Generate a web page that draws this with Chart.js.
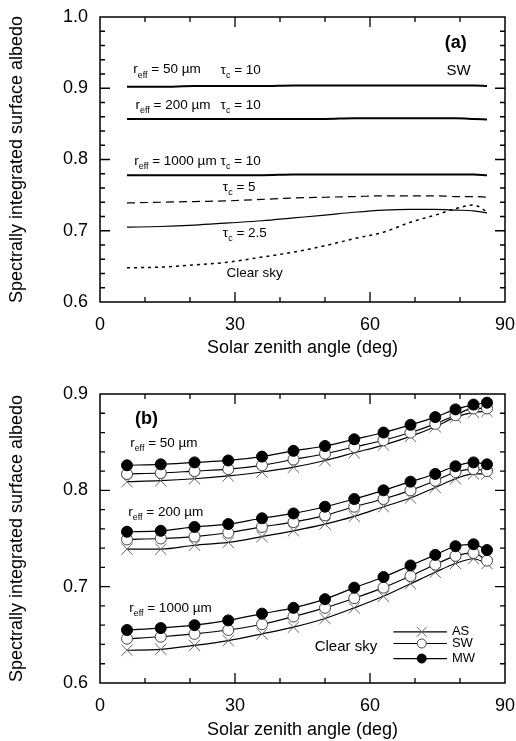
<!DOCTYPE html>
<html>
<head>
<meta charset="utf-8">
<script src="https://cdn.jsdelivr.net/npm/chart.js@4.4.1/dist/chart.umd.min.js"></script>
<style>
  html, body { margin: 0; padding: 0; background: #fff; }
  canvas { position: absolute; left: 0; }
  #chartA { top: 0; }
  #chartB { top: 370px; }
</style>
</head>
<body>
<canvas id="chartA" width="516" height="370"></canvas>
<canvas id="chartB" width="516" height="371"></canvas>
<script>
// solar zenith angles (deg)
const sza = [6, 13.5, 21, 28.5, 36, 43, 50, 56.5, 63, 69, 74.5, 79, 83, 86];

// panel (a): SW scheme, cloudy cases
const r50Tau10 = [0.902, 0.902, 0.903, 0.903, 0.903, 0.904, 0.904, 0.904, 0.904, 0.904, 0.904, 0.904, 0.904, 0.903];
const r200Tau10 = [0.857, 0.857, 0.857, 0.857, 0.857, 0.857, 0.857, 0.858, 0.858, 0.858, 0.858, 0.858, 0.857, 0.856];
const r1000Tau10 = [0.778, 0.778, 0.778, 0.778, 0.778, 0.779, 0.779, 0.779, 0.779, 0.779, 0.779, 0.779, 0.779, 0.778];
const r1000Tau5 = [0.739, 0.740, 0.741, 0.742, 0.744, 0.746, 0.747, 0.748, 0.749, 0.749, 0.749, 0.748, 0.748, 0.747];
const r1000Tau25 = [0.705, 0.706, 0.708, 0.711, 0.714, 0.718, 0.722, 0.726, 0.729, 0.730, 0.730, 0.729, 0.728, 0.725];
const r1000Clear = [0.648, 0.649, 0.652, 0.656, 0.663, 0.670, 0.679, 0.689, 0.698, 0.712, 0.722, 0.731, 0.736, 0.727];

// panel (b): clear sky, three schemes
const as50 = [0.809, 0.810, 0.812, 0.815, 0.819, 0.824, 0.831, 0.839, 0.847, 0.856, 0.866, 0.876, 0.881, 0.882];
const sw50 = [0.817, 0.818, 0.820, 0.822, 0.826, 0.832, 0.838, 0.845, 0.852, 0.860, 0.869, 0.878, 0.885, 0.885];
const mw50 = [0.826, 0.827, 0.829, 0.831, 0.835, 0.841, 0.846, 0.853, 0.860, 0.868, 0.876, 0.884, 0.889, 0.891];
const as200 = [0.739, 0.739, 0.743, 0.746, 0.752, 0.758, 0.765, 0.773, 0.783, 0.792, 0.803, 0.812, 0.817, 0.817];
const sw200 = [0.749, 0.750, 0.752, 0.756, 0.762, 0.767, 0.774, 0.783, 0.791, 0.800, 0.810, 0.819, 0.822, 0.820];
const mw200 = [0.757, 0.758, 0.762, 0.765, 0.771, 0.776, 0.783, 0.791, 0.800, 0.809, 0.817, 0.825, 0.829, 0.827];
const as1000 = [0.634, 0.635, 0.639, 0.644, 0.651, 0.658, 0.667, 0.678, 0.690, 0.703, 0.715, 0.724, 0.729, 0.724];
const sw1000 = [0.646, 0.648, 0.651, 0.655, 0.661, 0.669, 0.678, 0.688, 0.699, 0.711, 0.723, 0.732, 0.735, 0.727];
const mw1000 = [0.655, 0.657, 0.660, 0.665, 0.672, 0.678, 0.687, 0.699, 0.710, 0.722, 0.733, 0.742, 0.744, 0.738];

const xTickLabels = [0, 30, 60, 90];
const FONT = '"Liberation Sans", Arial, sans-serif';

const pts = vals => vals.map((v, i) => ({ x: sza[i], y: v }));
const isTenth = v => Math.abs(v * 10 - Math.round(v * 10)) < 1e-6;

function drawParts(ctx, x, y, parts, size, bold) {
    // draws text pieces in a row, `sub` pieces smaller and lower
    let cx = x;
    parts.forEach(p => {
        const fs = p.sub ? size * 0.66 : size;
        ctx.font = (bold ? 'bold ' : '') + fs + 'px ' + FONT;
        ctx.fillText(p.t, cx, p.sub ? y + size * 0.4 : y);
        cx += ctx.measureText(p.t).width;
    });
}

// frame, inward ticks, text notes and the small legend
const decorPlugin = {
    id: 'decor',
    afterDatasetsDraw(chart, args, opts) {
        const ctx = chart.ctx;
        const a = chart.chartArea;
        const xs = chart.scales.x, ys = chart.scales.y;
        ctx.save();
        ctx.strokeStyle = '#000';
        ctx.lineWidth = 1.5;
        ctx.strokeRect(a.left, a.top, a.right - a.left, a.bottom - a.top);
        ctx.lineWidth = 1.3;
        ctx.beginPath();
        xs.ticks.forEach(t => {
            const px = xs.getPixelForValue(t.value);
            if (px <= a.left + 1 || px >= a.right - 1) return;
            const len = xTickLabels.includes(t.value) ? 10 : 5;
            ctx.moveTo(px, a.bottom); ctx.lineTo(px, a.bottom - len);
            ctx.moveTo(px, a.top); ctx.lineTo(px, a.top + len);
        });
        ys.ticks.forEach(t => {
            const py = ys.getPixelForValue(t.value);
            if (py <= a.top + 1 || py >= a.bottom - 1) return;
            const len = isTenth(t.value) ? 10 : 5;
            ctx.moveTo(a.left, py); ctx.lineTo(a.left + len, py);
            ctx.moveTo(a.right, py); ctx.lineTo(a.right - len, py);
        });
        ctx.stroke();

        ctx.fillStyle = '#000';
        ctx.textBaseline = 'middle';
        ctx.textAlign = 'left';
        (opts.notes || []).forEach(n => {
            drawParts(ctx, xs.getPixelForValue(n.x), ys.getPixelForValue(n.y), n.parts, n.size || 13.5, n.bold);
        });

        if (opts.legend) {
            const L = opts.legend;
            L.rows.forEach(r => {
                const py = ys.getPixelForValue(r.y);
                const x0 = xs.getPixelForValue(L.x0), x1 = xs.getPixelForValue(L.x1);
                ctx.strokeStyle = '#000';
                ctx.lineWidth = 1.2;
                ctx.beginPath(); ctx.moveTo(x0, py); ctx.lineTo(x1, py); ctx.stroke();
                ctx.strokeStyle = r.border;
                ctx.fillStyle = r.fill;
                ctx.lineWidth = 1;
                Chart.helpers.drawPoint(ctx, { pointStyle: r.style, radius: r.radius, borderWidth: 1, rotation: 0 },
                    xs.getPixelForValue(L.xm), py);
                ctx.fillStyle = '#000';
                ctx.font = '13px ' + FONT;
                ctx.fillText(r.label, xs.getPixelForValue(L.xt), py);
            });
        }
        ctx.restore();
    }
};

function axes(yMin, yMax, xAxisH, titlePad) {
    return {
        x: {
            type: 'linear', min: 0, max: 90,
            grid: { display: false, drawTicks: false },
            border: { display: false },
            ticks: {
                stepSize: 10, autoSkip: false, maxRotation: 0, padding: 12, color: '#000',
                font: { family: FONT, size: 18 },
                callback: v => xTickLabels.includes(v) ? String(v) : ''
            },
            title: { display: true, text: 'Solar zenith angle (deg)', color: '#000',
                font: { family: FONT, size: 18 }, padding: { top: 0, bottom: titlePad } },
            afterFit(s) { s.height = xAxisH; s.paddingLeft = 0; s.paddingRight = 0; }
        },
        y: {
            type: 'linear', min: yMin, max: yMax,
            grid: { display: false, drawTicks: false },
            border: { display: false },
            ticks: {
                stepSize: 0.02, autoSkip: false, padding: 12, color: '#000',
                font: { family: FONT, size: 18 },
                callback: v => isTenth(v) ? v.toFixed(1) : ''
            },
            title: { display: true, text: 'Spectrally integrated surface albedo', color: '#000',
                font: { family: FONT, size: 18 }, padding: { top: 6, bottom: 0 } },
            afterFit(s) { s.width = 100; s.paddingTop = 0; s.paddingBottom = 0; }
        }
    };
}

const reff = v => [{ t: 'r' }, { t: 'eff', sub: true }, { t: ' = ' + v + ' µm' }];
const tau = v => [{ t: 'τ' }, { t: 'c', sub: true }, { t: ' = ' + v }];

const lineA = (data, width, dash) => ({
    data: pts(data), borderColor: '#000', borderWidth: width, borderDash: dash || [],
    pointRadius: 0, tension: 0.3, cubicInterpolationMode: 'monotone', fill: false
});

new Chart(document.getElementById('chartA'), {
    type: 'line',
    data: {
        datasets: [
            lineA(r50Tau10, 2),
            lineA(r200Tau10, 2),
            lineA(r1000Tau10, 2),
            lineA(r1000Tau5, 1.2, [8, 5]),
            lineA(r1000Tau25, 1.2),
            lineA(r1000Clear, 1.5, [3, 4])
        ]
    },
    options: {
        responsive: false, animation: false, devicePixelRatio: 1,
        layout: { padding: { top: 17, right: 11, bottom: 0, left: 0 } },
        scales: axes(0.6, 1.0, 68, 11),
        plugins: {
            legend: { display: false }, tooltip: { enabled: false },
            decor: {
                notes: [
                    { x: 7.4, y: 0.926, parts: reff(50) },
                    { x: 26.8, y: 0.925, parts: tau(10) },
                    { x: 7.9, y: 0.876, parts: reff(200) },
                    { x: 26.8, y: 0.876, parts: tau(10) },
                    { x: 7.6, y: 0.798, parts: reff(1000) },
                    { x: 26.8, y: 0.798, parts: tau(10) },
                    { x: 27.3, y: 0.7615, parts: tau(5) },
                    { x: 27.3, y: 0.696, parts: tau(2.5) },
                    { x: 28.1, y: 0.640, parts: [{ t: 'Clear sky' }] },
                    { x: 77.0, y: 0.925, parts: [{ t: 'SW' }], size: 15 },
                    { x: 76.6, y: 0.963, parts: [{ t: '(a)' }], size: 18, bold: true }
                ]
            }
        }
    },
    plugins: [decorPlugin]
});

const asSet = data => ({
    data: pts(data), borderColor: '#000', borderWidth: 1.2, order: 3,
    pointStyle: 'crossRot', pointRadius: 8, pointBorderColor: '#666', pointBorderWidth: 1,
    tension: 0.3, cubicInterpolationMode: 'monotone', fill: false
});
const swSet = data => ({
    data: pts(data), borderColor: '#000', borderWidth: 1.2, order: 2,
    pointStyle: 'circle', pointRadius: 5.5, pointBackgroundColor: '#fff', pointBorderColor: '#444', pointBorderWidth: 1,
    tension: 0.3, cubicInterpolationMode: 'monotone', fill: false
});
const mwSet = data => ({
    data: pts(data), borderColor: '#000', borderWidth: 1.2, order: 1,
    pointStyle: 'circle', pointRadius: 5.5, pointBackgroundColor: '#000', pointBorderColor: '#000', pointBorderWidth: 1,
    tension: 0.3, cubicInterpolationMode: 'monotone', fill: false
});

new Chart(document.getElementById('chartB'), {
    type: 'line',
    data: {
        datasets: [
            asSet(as50), swSet(sw50), mwSet(mw50),
            asSet(as200), swSet(sw200), mwSet(mw200),
            asSet(as1000), swSet(sw1000), mwSet(mw1000)
        ]
    },
    options: {
        responsive: false, animation: false, devicePixelRatio: 1,
        layout: { padding: { top: 24, right: 11, bottom: 0, left: 0 } },
        scales: axes(0.6, 0.9, 58, 0),
        plugins: {
            legend: { display: false }, tooltip: { enabled: false },
            decor: {
                notes: [
                    { x: 7.8, y: 0.874, parts: [{ t: '(b)' }], size: 18, bold: true },
                    { x: 6.7, y: 0.849, parts: reff(50) },
                    { x: 6.3, y: 0.777, parts: reff(200) },
                    { x: 6.5, y: 0.6775, parts: reff(1000) },
                    { x: 47.7, y: 0.6375, parts: [{ t: 'Clear sky' }], size: 15 }
                ],
                legend: {
                    x0: 65.2, x1: 77.1, xm: 71.5, xt: 78.2,
                    rows: [
                        { y: 0.6531, label: 'AS', style: 'crossRot', radius: 7, fill: '#fff', border: '#666' },
                        { y: 0.641, label: 'SW', style: 'circle', radius: 4.5, fill: '#fff', border: '#444' },
                        { y: 0.6254, label: 'MW', style: 'circle', radius: 4.5, fill: '#000', border: '#000' }
                    ]
                }
            }
        }
    },
    plugins: [decorPlugin]
});
</script>
</body>
</html>
